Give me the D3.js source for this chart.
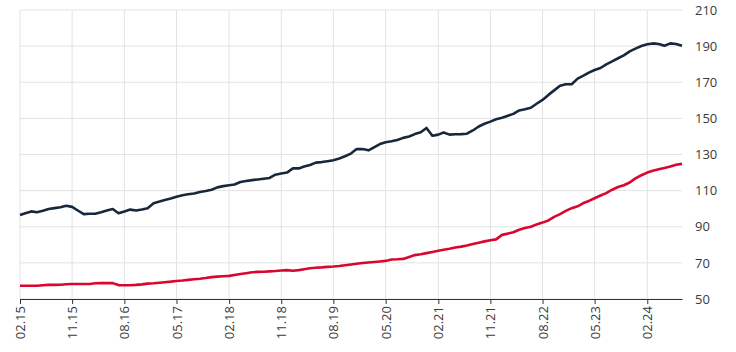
<!DOCTYPE html>
<html>
<head>
<meta charset="utf-8">
<script src="https://cdn.jsdelivr.net/npm/d3@7"></script>
<style>
  html, body { margin: 0; padding: 0; background: #ffffff; }
  svg { display: block; font-family: "Open Sans", "Noto Sans", sans-serif; }
</style>
</head>
<body>
<svg id="chart" width="736" height="352"></svg>
<script>
// Monthly observations, February 2015 to August 2024
const startMonth = "2015-02";
const endMonth = "2024-08";

const darkSeries = [
  96.5, 97.5, 98.5, 98.0, 98.8, 99.8, 100.3, 100.8, 101.6, 101.0,
  99.0, 97.0, 97.2, 97.2, 98.0, 99.0, 99.8, 97.5, 98.5, 99.5,
  99.0, 99.6, 100.3, 103.0, 104.0, 104.8, 105.6, 106.6, 107.4, 108.0,
  108.4, 109.2, 109.8, 110.5, 111.8, 112.5, 113.0, 113.4, 114.8, 115.3,
  115.8, 116.2, 116.6, 117.0, 118.8, 119.5, 120.0, 122.3, 122.3, 123.3,
  124.2, 125.5, 125.8, 126.3, 126.8, 127.8, 129.0, 130.5, 133.0, 133.0,
  132.3, 134.0, 135.8, 136.8, 137.3, 138.0, 139.2, 140.0, 141.3, 142.3,
  144.7, 140.4, 141.0, 142.2, 141.0, 141.2, 141.3, 141.5, 143.3, 145.5,
  147.0, 148.2, 149.5, 150.3, 151.5, 152.5, 154.4, 155.0, 155.9, 158.1,
  160.2, 163.0, 165.5, 168.1, 168.9, 168.9, 172.0, 173.5, 175.3, 176.8,
  177.9, 179.9, 181.6, 183.3, 184.9, 187.1, 188.6, 190.1, 191.0, 191.5,
  191.2, 190.2, 191.5, 191.2, 190.2
];

const redSeries = [
  57.3, 57.3, 57.3, 57.3, 57.6, 57.8, 57.8, 57.9, 58.2, 58.3,
  58.3, 58.3, 58.3, 58.7, 58.8, 58.8, 58.8, 57.7, 57.6, 57.6,
  57.8, 58.1, 58.5, 58.7, 59.0, 59.3, 59.6, 60.0, 60.2, 60.6,
  60.9, 61.2, 61.6, 62.1, 62.4, 62.6, 62.8, 63.3, 63.8, 64.3,
  64.8, 65.0, 65.1, 65.3, 65.5, 65.8, 66.0, 65.6, 66.0, 66.5,
  67.0, 67.3, 67.5, 67.8, 68.0, 68.3, 68.7, 69.1, 69.5, 69.9,
  70.2, 70.5, 70.8, 71.1, 71.9, 72.0, 72.2, 73.3, 74.3, 74.8,
  75.4, 76.0, 76.7, 77.3, 77.8, 78.5, 79.0, 79.6, 80.4, 81.1,
  81.9, 82.5, 83.0, 85.5, 86.2, 87.0, 88.3, 89.3, 90.0, 91.3,
  92.3, 93.5, 95.5, 97.0, 98.8, 100.3, 101.3, 103.0, 104.3, 105.8,
  107.3, 108.6, 110.5, 112.0, 113.0, 114.5, 116.8, 118.5, 120.0, 121.0,
  121.8, 122.5, 123.3, 124.3, 124.8
];

const xTickLabels = ["02.15", "11.15", "08.16", "05.17", "02.18", "11.18", "08.19",
                     "05.20", "02.21", "11.21", "08.22", "05.23", "02.24"];
const yTickValues = [50, 70, 90, 110, 130, 150, 170, 190, 210];

const parseMonth = d3.timeParse("%Y-%m");
const parseLabel = d3.timeParse("%m.%y");
const months = d3.timeMonth.range(parseMonth(startMonth), d3.timeMonth.offset(parseMonth(endMonth), 1));

const svg = d3.select("#chart");
const margin = { left: 20, right: 54, top: 10, bottom: 53 };
const W = 736, H = 352;
const FONT = "'Open Sans', 'Noto Sans', sans-serif";

const x = d3.scaleTime()
  .domain([months[0], months[months.length - 1]])
  .range([margin.left, W - margin.right]);
const y = d3.scaleLinear()
  .domain([50, 210])
  .range([H - margin.bottom, margin.top]);

const xTicks = xTickLabels.map(parseLabel);

// Grid
const grid = svg.append("g");
grid.selectAll("line.h").data(yTickValues).join("line")
  .attr("x1", margin.left).attr("x2", W - margin.right)
  .attr("y1", d => y(d)).attr("y2", d => y(d))
  .attr("stroke", "#e3e3e3").attr("stroke-width", 1);
grid.selectAll("line.v").data(xTicks).join("line")
  .attr("x1", d => x(d)).attr("x2", d => x(d))
  .attr("y1", margin.top).attr("y2", H - margin.bottom)
  .attr("stroke", "#e3e3e3").attr("stroke-width", 1);

// X axis
const xAxis = d3.axisBottom(x)
  .tickValues(xTicks)
  .tickFormat(d3.timeFormat("%m.%y"))
  .tickSize(5)
  .tickSizeOuter(0);
const gx = svg.append("g")
  .attr("transform", `translate(0,${H - margin.bottom})`)
  .call(xAxis)
  .attr("font-family", FONT)
  .attr("font-size", 13);
gx.select(".domain").attr("stroke", "#333").attr("stroke-width", 1.2);
gx.selectAll(".tick line").attr("stroke", "#333");
gx.selectAll(".tick text")
  .attr("fill", "#3a3a3a")
  .attr("text-anchor", "end")
  .attr("transform", "rotate(-90)")
  .attr("x", -7)
  .attr("y", 0)
  .attr("dy", "0.35em");

// Y axis (right)
const yAxis = d3.axisRight(y)
  .tickValues(yTickValues)
  .tickSize(0)
  .tickPadding(13);
const gy = svg.append("g")
  .attr("transform", `translate(${W - margin.right},0)`)
  .call(yAxis)
  .attr("font-family", FONT)
  .attr("font-size", 13);
gy.select(".domain").remove();
gy.selectAll(".tick text").attr("fill", "#3a3a3a");

// Lines
const line = d3.line()
  .x((d, i) => x(months[i]))
  .y(d => y(d));

svg.append("path")
  .datum(redSeries)
  .attr("fill", "none")
  .attr("stroke", "#d9072f")
  .attr("stroke-width", 2.6)
  .attr("stroke-linejoin", "round")
  .attr("d", line);

svg.append("path")
  .datum(darkSeries)
  .attr("fill", "none")
  .attr("stroke", "#17283c")
  .attr("stroke-width", 2.6)
  .attr("stroke-linejoin", "round")
  .attr("d", line);
</script>
</body>
</html>
